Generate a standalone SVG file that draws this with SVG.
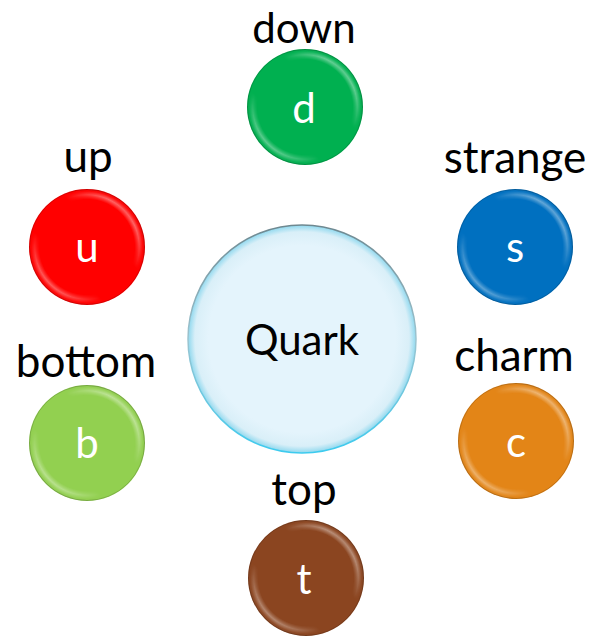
<svg xmlns="http://www.w3.org/2000/svg" width="592" height="638" viewBox="0 0 592 638">
<style>
.lbl{font-family:"Lato","Liberation Sans",sans-serif;font-size:44px;fill:#000;text-anchor:middle}
.in{font-family:"Lato","Liberation Sans",sans-serif;font-size:42px;fill:#fff;text-anchor:middle}
.q{font-family:"Lato","Liberation Sans",sans-serif;font-size:42px;fill:#000;text-anchor:middle}
.rim{fill:url(#ring);mask:url(#diag)}
.edge{fill:none;stroke:#000;stroke-opacity:0.15;stroke-width:1}
</style>
<defs>
<radialGradient id="ring" cx="0.5" cy="0.5" r="0.5">
<stop offset="0.82" stop-color="#fff" stop-opacity="0"/>
<stop offset="0.9" stop-color="#fff" stop-opacity="0.4"/>
<stop offset="0.96" stop-color="#fff" stop-opacity="0.05"/>
<stop offset="1" stop-color="#000" stop-opacity="0.1"/>
</radialGradient>
<linearGradient id="dg" x1="1" y1="0" x2="0" y2="1">
<stop offset="0" stop-color="#fff" stop-opacity="0"/>
<stop offset="0.2" stop-color="#fff" stop-opacity="1"/>
<stop offset="0.38" stop-color="#fff" stop-opacity="0"/>
<stop offset="0.66" stop-color="#fff" stop-opacity="0"/>
<stop offset="0.82" stop-color="#fff" stop-opacity="0.9"/>
<stop offset="1" stop-color="#fff" stop-opacity="0"/>
</linearGradient>
<mask id="diag" maskContentUnits="objectBoundingBox">
<rect x="0" y="0" width="1" height="1" fill="url(#dg)"/>
</mask>
<radialGradient id="qfill" cx="0.5" cy="0.5" r="0.5">
<stop offset="0.82" stop-color="#E4F4FC"/>
<stop offset="0.94" stop-color="#D9EFF8"/>
<stop offset="1" stop-color="#8FD8EE"/>
</radialGradient>
<linearGradient id="qedge" x1="0" y1="0" x2="0" y2="1">
<stop offset="0" stop-color="#6E8890"/>
<stop offset="0.5" stop-color="#9CC4D0"/>
<stop offset="1" stop-color="#3CCBEF"/>
</linearGradient>
</defs>
<g id="connectors"></g>
<g id="quark">
<circle cx="302" cy="339" r="114" fill="url(#qfill)" stroke="url(#qedge)" stroke-width="1.5"/>
<text class="q" x="302" y="355">Quark</text>
</g>
<g id="down">
<text class="lbl" x="304" y="43" style="font-size:42px">down</text>
<circle cx="305" cy="107" r="58" fill="#00B050"/>
<circle class="rim" cx="305" cy="107" r="58"/>
<circle class="edge" cx="305" cy="107" r="57.5"/>
<text class="in" x="304" y="123">d</text>
</g>
<g id="up">
<text class="lbl" x="88" y="172">up</text>
<circle cx="87" cy="247" r="58" fill="#FF0000"/>
<circle class="rim" cx="87" cy="247" r="58"/>
<circle class="edge" cx="87" cy="247" r="57.5"/>
<text class="in" x="87" y="262">u</text>
</g>
<g id="strange">
<text class="lbl" x="515" y="173">strange</text>
<circle cx="515" cy="247" r="58" fill="#0070C0"/>
<circle class="rim" cx="515" cy="247" r="58"/>
<circle class="edge" cx="515" cy="247" r="57.5"/>
<text class="in" x="515" y="262">s</text>
</g>
<g id="bottom">
<text class="lbl" x="86" y="377">bottom</text>
<circle cx="87" cy="443" r="58" fill="#92D050"/>
<circle class="rim" cx="87" cy="443" r="58"/>
<circle class="edge" cx="87" cy="443" r="57.5"/>
<text class="in" x="87" y="458">b</text>
</g>
<g id="charm">
<text class="lbl" x="514" y="371">charm</text>
<circle cx="516" cy="441" r="58" fill="#E38517"/>
<circle class="rim" cx="516" cy="441" r="58"/>
<circle class="edge" cx="516" cy="441" r="57.5"/>
<text class="in" x="516" y="457">c</text>
</g>
<g id="top">
<text class="lbl" x="304" y="505">top</text>
<circle cx="306" cy="578" r="58" fill="#8B4520"/>
<circle class="rim" cx="306" cy="578" r="58"/>
<circle class="edge" cx="306" cy="578" r="57.5"/>
<text class="in" x="304" y="594">t</text>
</g>
</svg>
